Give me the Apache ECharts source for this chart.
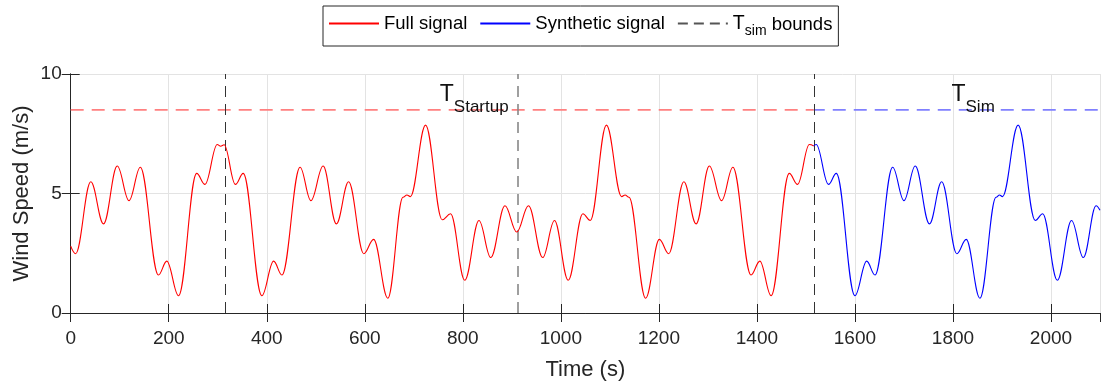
<!DOCTYPE html>
<html>
<head>
<meta charset="utf-8">
<script src="https://cdn.jsdelivr.net/npm/echarts@6/dist/echarts.min.js"></script>
<style>
html, body { margin: 0; padding: 0; background: #fff; }
#chart { width: 1102px; height: 386px; }
</style>
</head>
<body>
<div id="chart"></div>
<script>
// 完整信号 (时间 s, 风速 m/s)，读取的极值点
var fullSignal = [
	[0, 2.8], [10, 2.48], [41, 5.49], [67, 3.73], [95, 6.15], [119, 4.70], [142, 6.10],
	[179, 1.59], [196, 2.17], [220, 0.72], [257, 5.84], [274, 5.38], [299, 7.05], [306, 6.98],
	[313, 7.04], [336, 5.38], [352, 5.84], [390, 0.72], [414, 2.17], [431, 1.59], [468, 6.10],
	[490, 4.70], [515, 6.15], [542, 3.73], [567, 5.49], [598, 2.48], [618, 3.08], [647, 0.62],
	[678, 4.84], [686, 4.94], [693, 4.87], [724, 7.86], [758, 3.90], [775, 4.15], [804, 1.37],
	[833, 3.87], [857, 2.32], [886, 4.49], [910, 3.39], [934, 4.49], [963, 2.32], [987, 3.87],
	[1015, 1.37], [1045, 4.15], [1060, 3.87], [1093, 7.86], [1124, 4.87], [1131, 4.94],
	[1139, 4.84], [1173, 0.62], [1201, 3.08], [1220, 2.48], [1251, 5.49], [1276, 3.73],
	[1303, 6.15], [1328, 4.70], [1351, 6.10], [1388, 1.59], [1406, 2.17], [1429, 0.72],
	[1466, 5.84], [1483, 5.38], [1507, 7.05], [1516, 6.99]
];
// 合成信号
var synthSignal = [
	[1516, 6.99], [1521, 7.05], [1546, 5.38], [1562, 5.84], [1600, 0.72], [1624, 2.17],
	[1641, 1.59], [1677, 6.10], [1700, 4.70], [1723, 6.15], [1752, 3.73], [1777, 5.49],
	[1808, 2.48], [1827, 3.08], [1855, 0.62], [1888, 4.84], [1895, 4.94], [1901, 4.87],
	[1933, 7.86], [1968, 3.87], [1983, 4.15], [2013, 1.37], [2042, 3.87], [2066, 2.32],
	[2092, 4.49], [2100, 4.30]
];
// Tsim 边界
var boundTimes = [316, 912, 1516];
var tsimLevel = 8.5;
var startupRange = [0, 1516];
var simRange = [1516, 2100];
// 文字标注 [名称, 下标, 时间, 风速]
var notes = [['T', 'Startup', 753, 9.62], ['T', 'Sim', 1797, 9.62]];

var FONT = '"Liberation Sans", Arial, sans-serif';
var AX = '#262626';

var chart = echarts.init(document.getElementById('chart'));
var option = {
	animation: false,
	textStyle: { fontFamily: FONT },
	grid: { left: 70.7, right: 2, top: 74, bottom: 71 },
	legend: {
		left: 323, top: 6,
		data: ['Full signal', 'Synthetic signal', 'Tsim bounds'],
		itemWidth: 50, itemHeight: 14, itemGap: 12,
		padding: [8, 6, 8, 5],
		borderColor: AX, borderWidth: 1,
		itemStyle: { opacity: 0 },
		formatter: function(name) {
			if (name === 'Tsim bounds') return '{t|T}{s|sim}{b| bounds}';
			return name;
		},
		textStyle: {
			fontSize: 18.5, color: '#000', fontFamily: FONT,
			rich: {
				t: { fontSize: 19.5, fontFamily: FONT, color: '#000', verticalAlign: 'top', lineHeight: 19 },
				s: { fontSize: 14, fontFamily: FONT, color: '#000', verticalAlign: 'top', lineHeight: 14, padding: [10, 0, 0, 0] },
				b: { fontSize: 18.5, fontFamily: FONT, color: '#000', verticalAlign: 'top', lineHeight: 19, padding: [1, 0, 0, 0] }
			}
		}
	},
	xAxis: [{
		type: 'value', min: 0, max: 2100, interval: 200,
		name: 'Time (s)', nameLocation: 'middle', nameGap: 46, nameMoveOverlap: false,
		nameTextStyle: { fontSize: 22, color: AX, fontFamily: FONT },
		axisLine: { lineStyle: { color: AX } },
		axisTick: { inside: true, length: 9, lineStyle: { color: AX } },
		axisLabel: {
			fontSize: 19, color: AX, margin: 16, showMaxLabel: false, fontFamily: FONT,
			formatter: function(v) { return String(v); }
		},
		splitLine: { lineStyle: { color: '#e3e3e3' } }
	}, {
		type: 'value', min: 0, max: 2100, interval: 200, position: 'top',
		axisLine: { lineStyle: { color: AX } },
		axisTick: { inside: true, length: 9, lineStyle: { color: AX } },
		axisLabel: { show: false }, splitLine: { show: false }
	}],
	yAxis: [{
		type: 'value', min: 0, max: 10, interval: 5,
		name: 'Wind Speed (m/s)', nameLocation: 'middle', nameGap: 38, nameMoveOverlap: false,
		nameTextStyle: { fontSize: 22, color: AX, fontFamily: FONT },
		axisLine: { show: true, lineStyle: { color: AX } },
		axisTick: { show: true, inside: true, length: 9, lineStyle: { color: AX } },
		axisLabel: { fontSize: 19, color: AX, margin: 9, fontFamily: FONT },
		splitLine: { lineStyle: { color: '#e3e3e3' } }
	}, {
		type: 'value', min: 0, max: 10, interval: 5, position: 'right',
		axisLine: { show: true, lineStyle: { color: AX } },
		axisTick: { show: true, inside: true, length: 9, lineStyle: { color: AX } },
		axisLabel: { show: false }, splitLine: { show: false }
	}],
	series: [{
		name: 'Tsim thr red', type: 'line', symbol: 'none', silent: true,
		data: [[startupRange[0], tsimLevel], [startupRange[1], tsimLevel]],
		lineStyle: { color: '#ff8080', width: 1.6, type: [13, 8] }
	}, {
		name: 'Tsim thr blue', type: 'line', symbol: 'none', silent: true,
		data: [[simRange[0], tsimLevel], [simRange[1], tsimLevel]],
		lineStyle: { color: '#8080ff', width: 1.6, type: [13, 8], dashOffset: 2 }
	}, {
		name: 'Tsim bounds', type: 'line', symbol: 'none', data: [],
		color: '#555',
		lineStyle: { color: '#555', width: 1, type: [10, 6] },
		markLine: {
			silent: true, symbol: 'none', label: { show: false },
			lineStyle: { color: '#333', width: 1, type: [11, 7] },
			data: boundTimes.map(function(t, i) {
				var d = { xAxis: t };
				if (i === 1) d.lineStyle = { color: '#888', width: 1.6, type: [11, 7] };
				return d;
			})
		}
	}, {
		name: 'Full signal', type: 'line', symbol: 'none', data: fullSignal,
		smooth: 0.38, smoothMonotone: 'x', color: '#ff0000',
		lineStyle: { color: '#ff0000', width: 1.1 }, z: 5
	}, {
		name: 'Synthetic signal', type: 'line', symbol: 'none', data: synthSignal,
		smooth: 0.38, smoothMonotone: 'x', color: '#0000ff',
		lineStyle: { color: '#0000ff', width: 1.1 }, z: 5
	}]
};
chart.setOption(option);

// 标注文字
var graphics = notes.map(function(n) {
	var p = chart.convertToPixel({ gridIndex: 0 }, [n[2], n[3]]);
	return {
		type: 'text', x: p[0], y: p[1], z: 10,
		style: {
			text: '{t|' + n[0] + '}{s|' + n[1] + '}',
			rich: {
				t: { fontSize: 23, fontFamily: FONT, fill: '#111', verticalAlign: 'top', lineHeight: 23 },
				s: { fontSize: 17, fontFamily: FONT, fill: '#111', verticalAlign: 'top', lineHeight: 17, padding: [16, 0, 0, 0] }
			}
		}
	};
});
chart.setOption({ graphic: graphics });
</script>
</body>
</html>
